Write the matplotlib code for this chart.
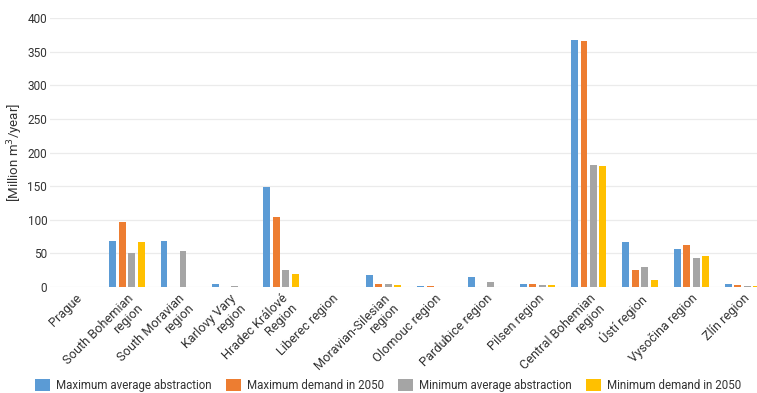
import matplotlib
matplotlib.use("Agg")
import matplotlib.pyplot as plt
import numpy as np

plt.rcParams['font.family'] = ['Roboto', 'DejaVu Sans']

categories = ["Prague", "South Bohemian\nregion", "South Moravian\nregion", "Karlovy Vary\nregion",
              "Hradec Králové\nRegion", "Liberec region", "Moravian-Silesian\nregion", "Olomouc region",
              "Pardubice region", "Pilsen region", "Central Bohemian\nregion", "Ústí region",
              "Vysočina region", "Zlín region"]
max_avg_abstraction = [0, 69, 69, 4, 149, 0, 18, 1, 15, 4, 367, 67, 56, 4]
max_demand_2050 = [0, 97, 0, 0, 104, 0, 5, 1, 0, 4, 366, 25, 62, 3]
min_avg_abstraction = [0, 50, 53, 1, 26, 0, 5, 0, 7, 3, 182, 29, 43, 1]
min_demand_2050 = [0, 67, 0, 0, 19, 0, 3, 0, 0, 3, 180, 11, 46, 1]
series_names = ["Maximum average abstraction", "Maximum demand in 2050",
                "Minimum average abstraction", "Minimum demand in 2050"]
colors = ["#5B9BD5", "#ED7D31", "#A5A5A5", "#FFC000"]
yticks = [0, 50, 100, 150, 200, 250, 300, 350, 400]

W, H = 757, 393
fig = plt.figure(figsize=(W / 100, H / 100), dpi=100)
ax = fig.add_axes([50 / W, (H - 287) / H, (W - 50) / W, 269 / H])

x = np.arange(len(categories))
series = [max_avg_abstraction, max_demand_2050, min_avg_abstraction, min_demand_2050]
offs = 0.185
bw = 0.135
for i, (vals, c, name) in enumerate(zip(series, colors, series_names)):
    ax.bar(x + (i - 1.5) * offs, vals, width=bw, color=c, label=name)

ax.set_ylim(0, 400)
ax.set_xlim(-0.5, 13.28)
ax.set_yticks(yticks)
ax.set_yticklabels([str(v) for v in yticks], fontsize=8.5, color="#333333")
ax.yaxis.grid(True, color="#EBEBEB", linewidth=0.9)
ax.set_axisbelow(True)
for s in ax.spines.values():
    s.set_visible(False)
ax.tick_params(axis='both', length=0)
ax.tick_params(axis='y', pad=2)
ax.set_xticks(x)
ax.set_xticklabels(categories, rotation=45, ha='right', va='top', rotation_mode='anchor',
                   fontsize=9.2, color="#333333", multialignment='right', linespacing=1.0)
ax.tick_params(axis='x', pad=3.5)
ax.set_ylabel("[Million m$^3$/year]", fontsize=9.5, color="#333333")
ax.yaxis.set_label_coords(-0.035, 0.5)

fig.legend(loc='lower left', bbox_to_anchor=(35 / W, 1 / H), ncol=4, frameon=False,
           fontsize=8.3, handlelength=1.3, handleheight=1.2, handletextpad=0.55,
           columnspacing=1.2, labelcolor="#333333", borderaxespad=0.0, borderpad=0.0)

fig.savefig("out.png", dpi=100)
